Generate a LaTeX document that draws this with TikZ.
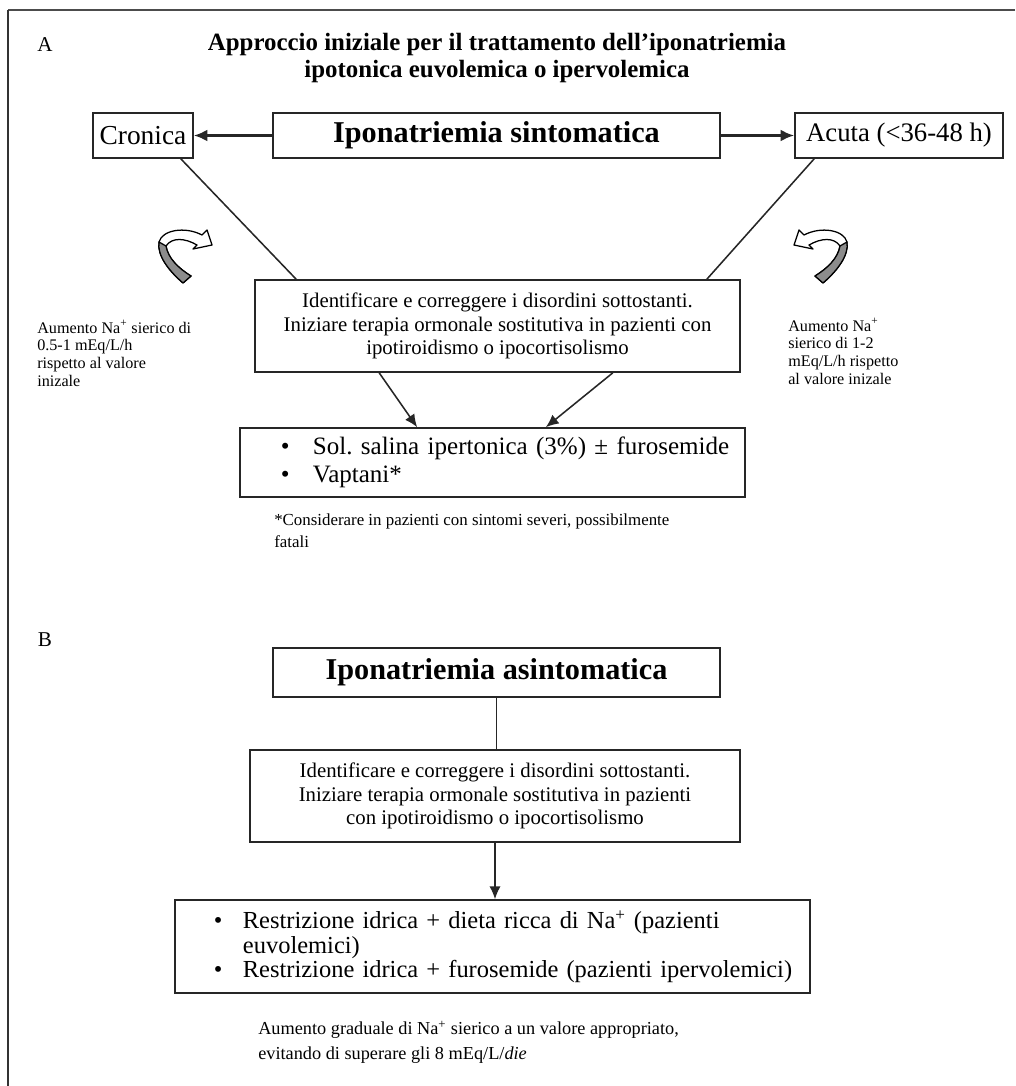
\documentclass[tikz,border=0pt]{standalone}
\usepackage{fontspec}
\setmainfont{Liberation Serif}
\usetikzlibrary{arrows.meta,calc}
\frenchspacing

\tikzset{
  box/.style={draw=black!85, line width=1.1pt, inner sep=1pt},
  conn/.style={black!85, line width=1.1pt},
  arr/.style={conn, -{Latex[length=3.2mm,width=2.8mm]}},
  ribbon/.style={draw=black, line width=0.9pt, line join=round},
  nota/.style={anchor=west, align=left, inner sep=0pt},
}

\begin{document}
\begin{tikzpicture}[x=0.025cm, y=-0.025cm]
  \useasboundingbox (0,0) rectangle (1015,1086);
  % cornice
  \draw[black!70, line width=1.8pt] (1015,10) -- (8,10);
  \draw[black!80, line width=1pt] (8,10) -- (8,1086);

  % parte A
  \node[font=\fontsize{15}{18}\selectfont] (labA) at (45,45) {A};
  \node[align=center, font=\fontsize{17.7}{19.2}\selectfont\bfseries] (titolo) at (497,58)
    {Approccio iniziale per il trattamento dell'iponatriemia\\ ipotonica euvolemica o ipervolemica};

  \node[box, minimum width=2.5cm, minimum height=1.125cm, font=\fontsize{19.5}{22}\selectfont] (cron) at (143,135.5) {Cronica};
  \node[box, minimum width=11.175cm, minimum height=1.125cm, font=\fontsize{21.5}{24}\selectfont\bfseries] (sint) at (496.5,135.5) {Iponatriemia sintomatica};
  \node[box, minimum width=5.2cm, minimum height=1.125cm, font=\fontsize{19}{22}\selectfont] (acuta) at (899,135.5) {Acuta (<36-48 h)};

  \draw[conn, line width=2pt, -{Latex[length=3.4mm,width=3mm]}] (sint.west) -- (cron.east);
  \draw[conn, line width=2pt, -{Latex[length=3.4mm,width=3mm]}] (sint.east) -- (acuta.west);

  \node[box, minimum width=12.125cm, minimum height=2.3cm, align=center, font=\fontsize{14.8}{16.7}\selectfont] (identA) at (497.5,326)
    {Identificare e correggere i disordini sottostanti.\\ Iniziare terapia ormonale sostitutiva in pazienti con\\ ipotiroidismo o ipocortisolismo};

  \draw[conn] ($(cron.south east)+(-13,0)$) -- ($(identA.north west)+(42,0)$);
  \draw[conn] ($(acuta.south west)+(20,0)$) -- ($(identA.north east)+(-34,0)$);

  \node[box, minimum width=12.625cm, text width=12.625cm, inner xsep=0pt, minimum height=1.725cm, align=left, font=\fontsize{17.8}{19.9}\selectfont] (treatA) at (492.5,462.5)
    {\hspace*{1.025cm}\makebox[0.8cm][l]{\textbullet}Sol. salina ipertonica (3\%) ± furosemide\\
     \hspace*{1.025cm}\makebox[0.8cm][l]{\textbullet}Vaptani*};

  \draw[arr] ($(identA.south west)+(125,0)$) -- ($(treatA.north west)+(178,0)$);
  \draw[arr] ($(identA.south east)+(-128,0)$) -- ($(treatA.north east)+(-200,0)$);

  \node[nota, font=\fontsize{12}{15.6}\selectfont] (asterisco) at (274,531)
    {*Considerare in pazienti con sintomi severi, possibilmente\\ fatali};

  \node[nota, font=\fontsize{11.5}{12.6}\selectfont] (aumCron) at (37,353.5)
    {Aumento Na\textsuperscript{+} sierico di\\ 0.5-1 mEq/L/h\\ rispetto al valore\\ inizale};
  \node[nota, font=\fontsize{11.5}{12.6}\selectfont] (aumAcuta) at (788,351.5)
    {Aumento Na\textsuperscript{+}\\ sierico di 1-2\\ mEq/L/h rispetto\\ al valore inizale};

  % frecce curve
  \foreach \s/\dx in {1/0, -1/1006} {
    \begin{scope}[shift={(\dx,0)}, xscale=\s]
      \draw[ribbon, fill=white] (183,283) .. controls (168,270) and (157,255) .. (159,242)
        .. controls (162,230) and (185,226) .. (202,235) -- (207,230) -- (212,245) -- (193,249) -- (197,245)
        .. controls (185,238) and (172,237) .. (166,246) .. controls (168,258) and (178,268) .. (191,276) -- cycle;
      \draw[ribbon, fill=black!45] (183,283) .. controls (168,270) and (157,255) .. (159,242) -- (166,246)
        .. controls (168,258) and (178,268) .. (191,276) -- cycle;
    \end{scope}
  }

  % parte B
  \node[font=\fontsize{15}{18}\selectfont] (labB) at (45,640) {B};
  \node[box, minimum width=11.175cm, minimum height=1.225cm, font=\fontsize{21.5}{24}\selectfont\bfseries] (asint) at (496.5,672.5) {Iponatriemia asintomatica};

  \node[box, minimum width=12.25cm, minimum height=2.3cm, align=center, font=\fontsize{14.8}{16.7}\selectfont] (identB) at (495,796)
    {Identificare e correggere i disordini sottostanti.\\ Iniziare terapia ormonale sostitutiva in pazienti\\ con ipotiroidismo o ipocortisolismo};

  \draw[conn] (asint.south) -- (asint.south |- identB.north);

  \node[box, minimum width=15.875cm, text width=15.875cm, inner xsep=0pt, minimum height=2.325cm, align=left, font=\fontsize{17.4}{17.2}\selectfont] (treatB) at (492.5,946.5)
    {\hspace*{0.975cm}\makebox[0.725cm][l]{\textbullet}Restrizione idrica + dieta ricca di Na\textsuperscript{+} (pazienti\\
     \hspace*{1.7cm}euvolemici)\\
     \hspace*{0.975cm}\makebox[0.725cm][l]{\textbullet}Restrizione idrica + furosemide (pazienti ipervolemici)};

  \draw[arr] (identB.south) -- (identB.south |- treatB.north);

  \node[nota, font=\fontsize{13}{17.8}\selectfont] (graduale) at (258,1042.5)
    {Aumento graduale di Na\textsuperscript{+} sierico a un valore appropriato,\\ evitando di superare gli 8 mEq/L/\textit{die}};
\end{tikzpicture}
\end{document}
